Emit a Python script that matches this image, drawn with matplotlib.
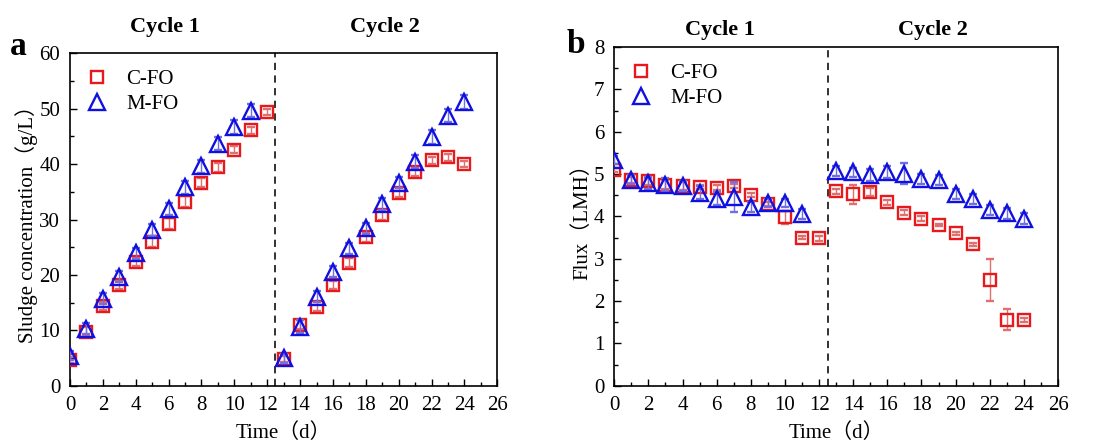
import numpy as np
import matplotlib.pyplot as plt
from matplotlib.ticker import MultipleLocator

plt.rcParams.update({
    "font.family": ["Liberation Serif", "Noto Sans CJK SC"],
    "mathtext.fontset": "stix",
    "xtick.direction": "in",
    "ytick.direction": "in",
})

days_c = np.arange(0, 25)
days_m = np.array([0, 1, 2, 3, 4, 5, 6, 7, 8, 9, 10, 11,
                   13, 14, 15, 16, 17, 18, 19, 20, 21, 22, 23, 24])

# panel a: sludge concentration (g/L)
sludge_c = [4.7, 9.8, 14.4, 18.2, 22.4, 26.0, 29.2, 33.2, 36.6, 39.4, 42.6, 46.1, 49.4,
            4.8, 11.0, 14.3, 18.2, 22.2, 26.8, 30.8, 34.8, 38.6, 40.7, 41.2, 40.0]
sludge_c_err = [0.5, 0.8, 0.8, 0.8, 0.8, 1.0, 1.0, 1.0, 0.8, 0.8, 0.6, 0.6, 0.5,
                0.5, 0.8, 0.8, 0.8, 0.8, 0.8, 0.8, 0.8, 0.8, 0.6, 0.6, 0.6]
sludge_m = [5.4, 10.3, 15.7, 19.7, 23.9, 28.1, 31.9, 35.8, 39.6, 43.7, 46.7, 49.6,
            5.0, 10.7, 16.1, 20.6, 24.8, 28.4, 32.8, 36.6, 40.4, 44.9, 48.7, 51.2]
sludge_m_err = [0.8, 1.0, 1.0, 1.0, 1.0, 1.0, 1.0, 1.2, 1.2, 1.2, 1.2, 1.2,
                0.8, 1.2, 1.0, 1.0, 1.0, 1.0, 1.0, 1.0, 1.2, 1.2, 1.2, 1.2]

# panel b: flux (LMH)
flux_c = [5.09, 4.86, 4.83, 4.75, 4.72, 4.70, 4.68, 4.72, 4.50, 4.29, 3.98, 3.50, 3.48,
          4.59, 4.52, 4.57, 4.33, 4.09, 3.95, 3.80, 3.60, 3.34, 2.50, 1.56, 1.56]
flux_c_err = [0.05, 0.08, 0.08, 0.1, 0.1, 0.05, 0.05, 0.05, 0.05, 0.05, 0.15, 0.03, 0.05,
              0.06, 0.22, 0.1, 0.06, 0.06, 0.06, 0.03, 0.03, 0.03, 0.5, 0.25, 0.05]
flux_m = [5.33, 4.87, 4.79, 4.75, 4.72, 4.56, 4.42, 4.46, 4.23, 4.32, 4.32, 4.05,
          5.08, 5.04, 4.98, 5.05, 5.01, 4.89, 4.86, 4.53, 4.42, 4.16, 4.07, 3.95]
flux_m_err = [0.1, 0.1, 0.15, 0.15, 0.12, 0.15, 0.15, 0.35, 0.12, 0.1, 0.1, 0.12,
              0.12, 0.1, 0.15, 0.15, 0.25, 0.12, 0.12, 0.12, 0.12, 0.12, 0.12, 0.12]

red = "#e8191d"
blue = "#1010e0"

fig = plt.figure(figsize=(10.93, 4.43), dpi=100)
ax_a = fig.add_axes([0.064, 0.129, 0.391, 0.751])
ax_b = fig.add_axes([0.562, 0.129, 0.406, 0.765])


def draw(ax, yc, yce, ym, yme, ylim, ymajor, ylabel, cyc_x, cyc_y):
    c = ax.errorbar(days_c, yc, yerr=yce, fmt="s", ms=8.5, mfc="none", mec=red, mew=1.7,
                    ecolor="#e07070", elinewidth=1, capsize=3, zorder=3)
    m = ax.errorbar(days_m, ym, yerr=yme, fmt="^", ms=11, mfc="none", mec=blue, mew=1.7,
                    ecolor="#7070e0", elinewidth=1, capsize=3, zorder=4)
    ax.axvline(12.5, color="#222222", ls="--", lw=1.3, dashes=(4, 3))
    ax.set_xlim(0, 26)
    ax.set_ylim(*ylim)
    ax.xaxis.set_major_locator(MultipleLocator(2))
    ax.xaxis.set_minor_locator(MultipleLocator(1))
    ax.yaxis.set_major_locator(MultipleLocator(ymajor))
    ax.yaxis.set_minor_locator(MultipleLocator(ymajor / 2))
    ax.tick_params(which="major", length=5, width=1, labelsize=15, pad=7)
    ax.tick_params(which="minor", length=3, width=1)
    for s in ax.spines.values():
        s.set_linewidth(1.2)
    ax.set_xlabel("Time（d）", fontsize=15, labelpad=6)
    ax.set_ylabel(ylabel, fontsize=15, labelpad=1)
    ax.text(cyc_x[0], cyc_y, "Cycle 1", transform=ax.transAxes, ha="center",
            va="center", fontsize=16, fontweight="bold")
    ax.text(cyc_x[1], cyc_y, "Cycle 2", transform=ax.transAxes, ha="center",
            va="center", fontsize=16, fontweight="bold")
    ax.legend([c[0], m[0]], ["C-FO", "M-FO"], loc="upper left", frameon=False,
              fontsize=15, handlelength=1.0, handletextpad=0.9, borderaxespad=0.4,
              labelspacing=0.25, borderpad=0.4)


draw(ax_a, sludge_c, sludge_c_err, sludge_m, sludge_m_err, (0, 60), 10,
     "Sludge concentration（g/L）", (0.222, 0.738), 1.078)
draw(ax_b, flux_c, flux_c_err, flux_m, flux_m_err, (0, 8), 1, "Flux（LMH）",
     (0.239, 0.718), 1.05)

fig.text(0.017, 0.895, "a", fontsize=24, fontweight="bold", ha="center", va="center")
fig.text(0.527, 0.9, "b", fontsize=24, fontweight="bold", ha="center", va="center")

fig.savefig("out.png", dpi=100)
plt.close()
